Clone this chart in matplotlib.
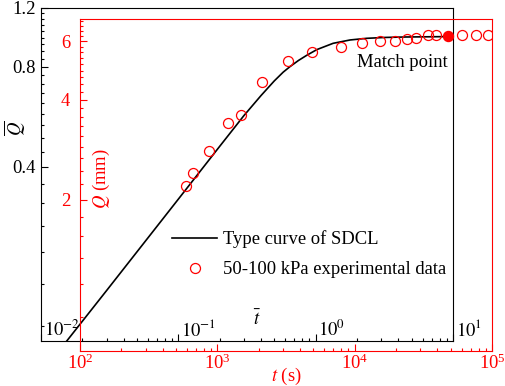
import matplotlib
matplotlib.use('Agg')
import matplotlib.pyplot as plt
from matplotlib.ticker import MultipleLocator, NullFormatter, FormatStrFormatter, LogLocator

plt.rcParams['font.family'] = 'Liberation Serif'
plt.rcParams['mathtext.fontset'] = 'stix'
plt.rcParams['font.size'] = 13.4

# type curve (dimensionless, black axes)
curve_t = [0.01, 0.0154, 0.03, 0.1, 0.2, 0.3, 0.4, 0.5, 0.58, 0.65, 0.75,
           0.86, 1.02, 1.34, 1.78, 2.35, 3.2, 4.5, 10]
curve_Q = [0.0957, 0.12, 0.170, 0.320, 0.461, 0.570, 0.655, 0.725, 0.77,
           0.80, 0.835, 0.865, 0.90, 0.94, 0.962, 0.973, 0.979, 0.982, 0.985]

# 50-100 kPa experimental data (red axes)
exp_t = [592, 662, 865, 1190, 1480, 2100, 3290, 4870, 7950, 11250, 15300,
         19700, 23900, 28000, 34400, 38900, 60800, 76100, 94000]
exp_Q = [2.20, 2.40, 2.80, 3.41, 3.60, 4.51, 5.23, 5.56, 5.77, 5.92, 6.02,
         6.03, 6.08, 6.15, 6.26, 6.26, 6.25, 6.25, 6.25]

match_t = [48000]
match_Q = [6.23]

black_xticks = [0.01, 0.1, 1, 10]
black_xlabels = [r'$10^{-2}$', r'$10^{-1}$', r'$10^{0}$', r'$10^{1}$']

fig = plt.figure(figsize=(5.05, 3.86), dpi=100)
ax1 = fig.add_axes([41/505, 45/386, 412/505, 333/386])
ax2 = fig.add_axes([80/505, 35/386, 412/505, 332/386])
ax2.set_facecolor('none')

# ----- black axes: type curve -----
line, = ax1.plot(curve_t, curve_Q, color='black', lw=1.2)
ax1.set_xscale('log')
ax1.set_yscale('log')
ax1.set_xlim(0.01, 10)
ax1.set_ylim(0.12, 1.2)

ax1.yaxis.set_major_locator(MultipleLocator(0.4))
ax1.yaxis.set_minor_locator(MultipleLocator(0.4 / 9))
ax1.yaxis.set_major_formatter(FormatStrFormatter('%.1f'))
ax1.yaxis.set_minor_formatter(NullFormatter())
ax1.xaxis.set_major_locator(LogLocator(base=10))
ax1.xaxis.set_minor_locator(LogLocator(base=10, subs=range(2, 10)))
ax1.xaxis.set_major_formatter(NullFormatter())
ax1.xaxis.set_minor_formatter(NullFormatter())
ax1.tick_params(which='both', direction='in', width=0.8)
ax1.tick_params(which='major', length=5)
ax1.tick_params(which='minor', length=2.5)
ax1.tick_params(axis='y', pad=4)

# black x tick labels sit inside the axes, just right of each tick
for v, lab in zip(black_xticks, black_xlabels):
    ax1.annotate(lab, xy=(v, 0), xycoords=('data', 'axes fraction'),
                 xytext=(2, 1), textcoords='offset points',
                 ha='left', va='bottom')

ax1.set_ylabel(r'$\overline{Q}$')
ax1.yaxis.set_label_coords(-0.035, 0.64)
ax1.set_xlabel(r'$\bar{t}$')
ax1.xaxis.set_label_coords(0.524, 0.095)

# ----- red axes: measured data -----
pts, = ax2.plot(exp_t, exp_Q, 'o', ms=7.2, mfc='none', mec='red', mew=0.9)
ax2.plot(match_t, match_Q, 'o', ms=7.2, color='red')
ax2.set_xscale('log')
ax2.set_yscale('log')
ax2.set_xlim(1e2, 1e5)
ax2.set_ylim(0.7, 7)

ax2.yaxis.set_major_locator(MultipleLocator(2))
ax2.yaxis.set_minor_locator(MultipleLocator(2 / 9))
ax2.yaxis.set_major_formatter(FormatStrFormatter('%d'))
ax2.yaxis.set_minor_formatter(NullFormatter())
ax2.xaxis.set_minor_locator(LogLocator(base=10, subs=range(2, 10)))
ax2.xaxis.set_minor_formatter(NullFormatter())
for s in ax2.spines.values():
    s.set_color('red')
ax2.tick_params(which='both', direction='in', colors='red', width=0.8)
ax2.tick_params(which='major', length=5)
ax2.tick_params(which='minor', length=2.5)
ax2.tick_params(axis='y', pad=7)
ax2.tick_params(axis='x', pad=2)

ax2.set_xlabel(r'$t$ (s)', color='red', labelpad=-5)
ax2.set_ylabel(r'$Q$ (mm)', color='red')
ax2.yaxis.set_label_coords(0.078, 0.518)

ax2.annotate('Match point', xy=(match_t[0], match_Q[0]), xytext=(0, -13),
             textcoords='offset points', ha='right', va='top')

ax2.legend([line, pts], ['Type curve of SDCL', '50-100 kPa experimental data'],
           loc='center left', bbox_to_anchor=(164.8/505, 1 - 254.5/386),
           bbox_transform=fig.transFigure, frameon=False, numpoints=1,
           handlelength=2.4, handletextpad=0.35, labelspacing=0.7,
           borderaxespad=0, borderpad=0.4)

fig.savefig('out.png', dpi=100)
